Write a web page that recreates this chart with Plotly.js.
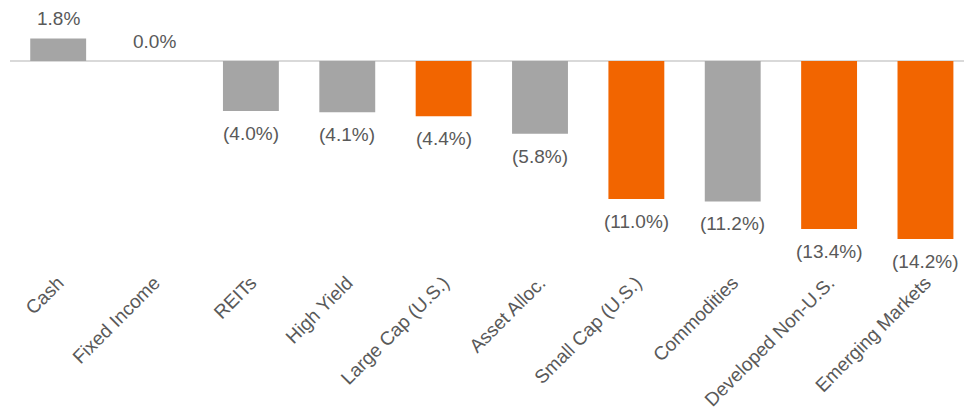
<!DOCTYPE html>
<html>
<head>
<meta charset="utf-8">
<script src="https://cdn.plot.ly/plotly-3.0.1.min.js"></script>
<style>html,body{margin:0;padding:0;background:#fff}#chart{width:964px;height:414px}</style>
</head>
<body>
<div id="chart"></div>
<script>
const categories = ["Cash","Fixed Income","REITs","High Yield","Large Cap (U.S.)","Asset Alloc.","Small Cap (U.S.)","Commodities","Developed Non-U.S.","Emerging Markets"];
const values = [1.8, 0.0, -4.0, -4.1, -4.4, -5.8, -11.0, -11.2, -13.4, -14.2];
const highlight = [false, false, false, false, true, false, true, false, true, true];

const GRAY = "#a5a5a5";
const ORANGE = "#f26500";
const TEXT = "#595959";

const fmt = v => v < 0 ? "(" + Math.abs(v).toFixed(1) + "%)" : v.toFixed(1) + "%";

const trace = {
  type: "bar",
  x: categories,
  y: values,
  width: 0.58,
  marker: {color: highlight.map(h => h ? ORANGE : GRAY)},
  hoverinfo: "skip"
};

const annotations = categories.map((c, i) => ({
  x: c, y: values[i], xref: "x", yref: "y",
  text: fmt(values[i]),
  showarrow: false,
  yanchor: values[i] < 0 ? "top" : "bottom",
  yshift: values[i] < 0 ? -10 : 7,
  font: {family: "Liberation Sans, Arial, sans-serif", size: 19, color: TEXT}
}));

const layout = {
  width: 964, height: 414,
  margin: {l: 10, r: 0, t: 0, b: 147},
  paper_bgcolor: "#fff", plot_bgcolor: "#fff",
  showlegend: false,
  xaxis: {
    range: [-0.5, 9.4],
    tickangle: -45,
    showgrid: false, showline: false, zeroline: false, ticks: "",
    tickfont: {family: "Liberation Sans, Arial, sans-serif", size: 19, color: TEXT},
    automargin: false
  },
  yaxis: {
    range: [-16.43, 4.86],
    showgrid: false, showticklabels: false, ticks: "", showline: false,
    zeroline: true, zerolinecolor: "#d9d9d9", zerolinewidth: 2
  },
  annotations: annotations
};

Plotly.newPlot("chart", [trace], layout, {displayModeBar: false, staticPlot: true});
</script>
</body>
</html>
